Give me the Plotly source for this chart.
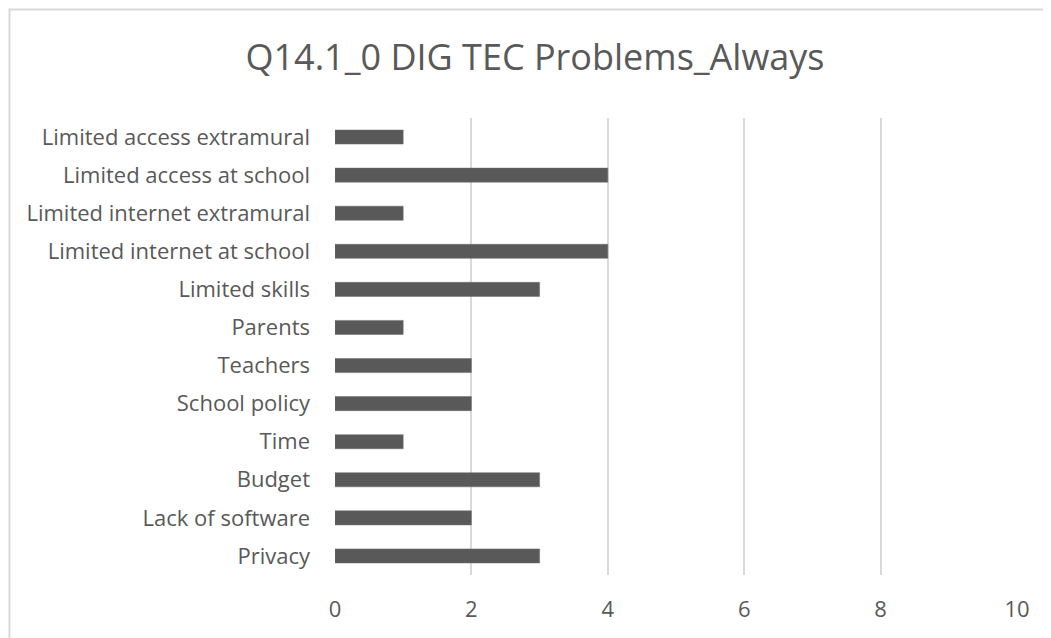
import plotly.graph_objects as go

categories = ["Limited access extramural", "Limited access at school", "Limited internet extramural",
              "Limited internet at school", "Limited skills", "Parents", "Teachers", "School policy",
              "Time", "Budget", "Lack of software", "Privacy"]
values = [1, 4, 1, 4, 3, 1, 2, 2, 1, 3, 2, 3]
x_ticks = [0, 2, 4, 6, 8, 10]
title_text = "Q14.1_0 DIG TEC Problems_Always"

W, H = 1051, 638
OFF = 8  # page body margin
L, T = 335 - OFF, 118 - OFF
pw, ph = 682, 457
R, B = W - L - pw, H - T - ph

def px_x(sx):
    return (sx - OFF - L) / pw

def px_y(sy):
    return 1 - (sy - OFF - T) / ph

FONT = "Open Sans, Lato, sans-serif"
GRAY = "#595959"

fig = go.Figure(go.Bar(
    y=categories, x=values, orientation="h",
    marker=dict(color=GRAY, line=dict(color="#6b6b6b", width=0.5)),
))

fig.update_layout(
    width=W, height=H,
    margin=dict(l=L, r=R, t=T, b=B),
    paper_bgcolor="white", plot_bgcolor="white",
    bargap=0.63,
    showlegend=False,
    font=dict(family=FONT, color=GRAY),
    title=dict(text=title_text, x=(535 - OFF) / W, xanchor="center",
               y=1 - (57 - OFF) / H, yanchor="middle",
               font=dict(size=36, color=GRAY, family=FONT)),
    xaxis=dict(range=[0, 10], tickvals=x_ticks, showgrid=True, gridcolor="#d9d9d9", gridwidth=2,
               zeroline=False, showline=False, ticks="", tickfont=dict(size=22, color=GRAY),
               ticklabelstandoff=19),
    yaxis=dict(categoryorder="array", categoryarray=categories, autorange="reversed",
               showgrid=False, zeroline=False, showline=False, ticks="",
               tickfont=dict(size=22, color=GRAY), ticklabelstandoff=24),
    shapes=[dict(type="rect", xref="paper", yref="paper",
                 x0=px_x(9.5), x1=px_x(W + 30),
                 y0=px_y(H + 30), y1=px_y(9.5),
                 line=dict(color="#d9d9d9", width=2), fillcolor="rgba(0,0,0,0)", layer="below")],
)

fig.write_html("out.html")
